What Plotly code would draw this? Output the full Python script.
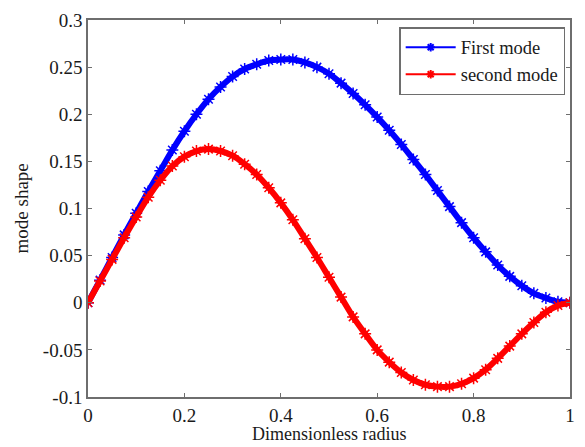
import plotly.graph_objects as go

x_vals = [round(i * 0.025, 3) for i in range(41)]

first_mode = [0.000, 0.024, 0.048, 0.072, 0.095, 0.118, 0.140, 0.162, 0.182, 0.200,
              0.216, 0.229, 0.240, 0.248, 0.253, 0.257, 0.258, 0.258, 0.255, 0.250,
              0.243, 0.233, 0.222, 0.210, 0.197, 0.183, 0.168, 0.152, 0.136, 0.119,
              0.102, 0.085, 0.069, 0.054, 0.040, 0.028, 0.018, 0.010, 0.005, 0.001,
              0.000]

second_mode = [0.000, 0.023, 0.046, 0.069, 0.091, 0.112, 0.130, 0.145, 0.155, 0.161,
               0.163, 0.161, 0.156, 0.147, 0.136, 0.122, 0.106, 0.088, 0.068, 0.048,
               0.027, 0.006, -0.015, -0.033, -0.050, -0.063, -0.074, -0.082, -0.087, -0.089,
               -0.089, -0.086, -0.080, -0.071, -0.059, -0.046, -0.033, -0.021, -0.010, -0.003,
               0.000]

series_names = ["First mode", "second mode"]
series_colors = ["#0000ff", "#ff0000"]

x_ticks = [0, 0.2, 0.4, 0.6, 0.8, 1.0]
x_tick_text = ["0", "0.2", "0.4", "0.6", "0.8", "1"]
y_ticks = [-0.1, -0.05, 0, 0.05, 0.1, 0.15, 0.2, 0.25, 0.3]
y_tick_text = ["-0.1", "-0.05", "0", "0.05", "0.1", "0.15", "0.2", "0.25", "0.3"]

FONT = "Liberation Serif"
TXT = "#1a1a1a"

fig = go.Figure()
for ys, name, col in zip([first_mode, second_mode], series_names, series_colors):
    fig.add_trace(go.Scatter(
        x=x_vals, y=ys, name=name, mode="lines+markers", showlegend=False,
        line=dict(color=col, width=6, shape="spline"),
        marker=dict(symbol="asterisk-open", size=10, color=col,
                    line=dict(color=col, width=1.5)),
    ))
# legend-only entries (thin line with small marker, as in the reference legend)
for name, col in zip(series_names, series_colors):
    fig.add_trace(go.Scatter(
        x=[None], y=[None], name=name, mode="lines+markers",
        line=dict(color=col, width=2),
        marker=dict(symbol="asterisk-open", size=7, color=col,
                    line=dict(color=col, width=2)),
    ))

axis_common = dict(
    showline=True, linecolor="#6e6e6e", linewidth=1.5, mirror="ticks",
    ticks="inside", ticklen=4, tickcolor="#6e6e6e", tickwidth=1,
    showgrid=False, zeroline=False,
    tickfont=dict(family=FONT, size=19, color=TXT),
)

fig.update_xaxes(range=[0, 1], tickvals=x_ticks, ticktext=x_tick_text, **axis_common)
fig.update_yaxes(range=[-0.1, 0.3], tickvals=y_ticks, ticktext=y_tick_text, **axis_common)

fig.add_annotation(text="Dimensionless radius", xref="paper", yref="paper",
                   x=0.5, y=-0.13, xanchor="center", yanchor="bottom", showarrow=False,
                   font=dict(family=FONT, size=18, color=TXT))
fig.add_annotation(text="mode shape", xref="paper", yref="paper",
                   x=-0.137, y=0.5, xanchor="center", yanchor="middle", showarrow=False,
                   textangle=-90, font=dict(family=FONT, size=19, color=TXT))

fig.update_layout(
    width=585, height=447,
    margin=dict(l=88, r=10, t=20, b=50),
    paper_bgcolor="white", plot_bgcolor="white",
    font=dict(family=FONT, size=19, color=TXT),
    legend=dict(x=0.99, y=0.981, xanchor="right", yanchor="top",
                bgcolor="white", bordercolor="#6e6e6e", borderwidth=1.5,
                font=dict(family=FONT, size=18.5, color=TXT),
                tracegroupgap=0, itemwidth=50),
)

fig.write_html("out.html",
               config={"displayModeBar": False},
               post_script="document.body.style.margin='0';document.body.style.overflow='hidden';")
